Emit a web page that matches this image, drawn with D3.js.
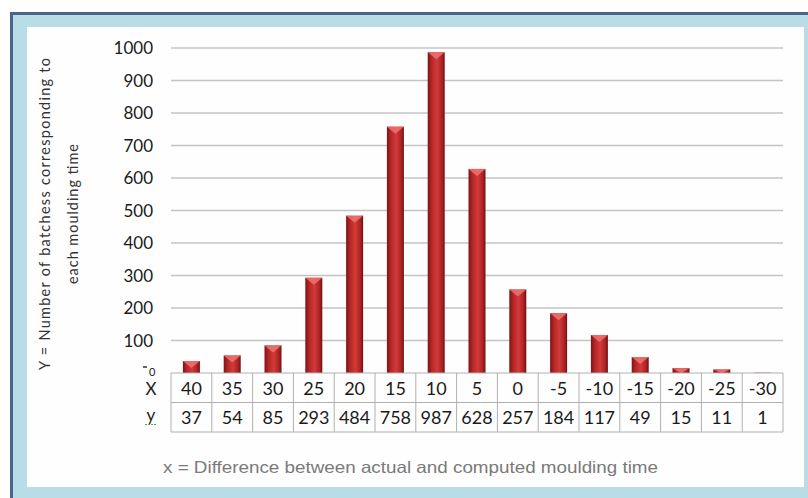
<!DOCTYPE html>
<html>
  <head>
    <title>Moulding time</title>
    <style>
      body { margin: 0; background: #fff; }
      svg { display: block; }
    </style>
  </head>
  <body>
    <svg id="canvas" width="808" height="498"></svg>
    <script src="https://d3js.org/d3.v7.min.js"></script>
    <script>
      // data
      const xLabels = ["40", "35", "30", "25", "20", "15", "10", "5", "0", "-5", "-10", "-15", "-20", "-25", "-30"];
      const counts = [37, 54, 85, 293, 484, 758, 987, 628, 257, 184, 117, 49, 15, 11, 1];
      const yTicks = [0, 100, 200, 300, 400, 500, 600, 700, 800, 900, 1000];

      const svg = d3.select("#canvas");
      const plotLeft = 171, plotRight = 783, plotTop = 48, base = 373;
      const rowH = 29.5;

      // frame
      svg.append("rect").attr("x", 10).attr("y", 12).attr("width", 798).attr("height", 486).attr("fill", "#b9dde7");
      svg.append("rect").attr("x", 10).attr("y", 12).attr("width", 798).attr("height", 3).attr("fill", "#46678a");
      svg.append("rect").attr("x", 10).attr("y", 12).attr("width", 3).attr("height", 486).attr("fill", "#46678a");
      svg.append("rect").attr("x", 27).attr("y", 27).attr("width", 777).attr("height", 460).attr("fill", "#fefefe");

      const x = d3.scaleBand().domain(xLabels).range([plotLeft, plotRight]);
      const y = d3.scaleLinear().domain([0, 1000]).range([base, plotTop]);

      // gridlines
      svg.append("g").selectAll("line").data(yTicks.filter(d => d > 0)).join("line")
        .attr("x1", plotLeft).attr("x2", plotRight)
        .attr("y1", d => y(d)).attr("y2", d => y(d))
        .attr("stroke", "#c4c4c4").attr("stroke-width", 1.3);

      // y tick labels
      svg.append("g").selectAll("text").data(yTicks.filter(d => d > 0)).join("text")
        .attr("x", 153).attr("y", d => y(d) + 6)
        .attr("text-anchor", "end")
        .attr("font-family", "Lato, sans-serif").attr("font-size", 17).attr("fill", "#1a1a1a")
        .text(d => d);
      svg.append("text").attr("x", 149).attr("y", 376)
        .attr("font-family", "Lato, sans-serif").attr("font-size", 11).attr("fill", "#222").text("0");
      svg.append("line").attr("x1", 143).attr("x2", 147).attr("y1", 367).attr("y2", 367)
        .attr("stroke", "#333").attr("stroke-width", 1.5);

      // bar gradient
      const defs = svg.append("defs");
      const grad = defs.append("linearGradient").attr("id", "barGrad").attr("x1", 0).attr("x2", 1).attr("y1", 0).attr("y2", 0);
      grad.append("stop").attr("offset", "0%").attr("stop-color", "#7e1414");
      grad.append("stop").attr("offset", "25%").attr("stop-color", "#b72828");
      grad.append("stop").attr("offset", "55%").attr("stop-color", "#d23a3a");
      grad.append("stop").attr("offset", "85%").attr("stop-color", "#a82222");
      grad.append("stop").attr("offset", "100%").attr("stop-color", "#6e1010");

      const bw = 17;
      const bars = svg.append("g").selectAll("g").data(counts).join("g");
      bars.append("rect")
        .attr("x", (d, i) => x(xLabels[i]) + x.bandwidth() / 2 - bw / 2)
        .attr("y", d => y(d))
        .attr("width", bw)
        .attr("height", d => base - y(d))
        .attr("fill", "url(#barGrad)");
      // top bevel
      bars.append("path")
        .attr("d", (d, i) => {
          const cx = x(xLabels[i]) + x.bandwidth() / 2;
          const t = y(d);
          const h = Math.min(7, base - t);
          return "M" + (cx - bw / 2) + "," + t + "H" + (cx + bw / 2) + "L" + cx + "," + (t + h) + "Z";
        })
        .attr("fill", "#ee7272").attr("opacity", 0.85);

      // data table
      const table = svg.append("g");
      const cols = d3.range(xLabels.length + 1);
      table.selectAll("line.v").data(cols).join("line")
        .attr("x1", i => plotLeft + i * x.step()).attr("x2", i => plotLeft + i * x.step())
        .attr("y1", base).attr("y2", base + 2 * rowH)
        .attr("stroke", "#b0b0b0");
      table.selectAll("line.h").data([0, 1, 2]).join("line")
        .attr("x1", plotLeft).attr("x2", plotRight)
        .attr("y1", r => base + r * rowH).attr("y2", r => base + r * rowH)
        .attr("stroke", "#b0b0b0");
      table.selectAll("text.xl").data(xLabels).join("text")
        .attr("x", d => x(d) + x.bandwidth() / 2).attr("y", base + 22)
        .attr("text-anchor", "middle")
        .attr("font-family", "Lato, sans-serif").attr("font-size", 18).attr("fill", "#1a1a1a")
        .text(d => d);
      table.selectAll("text.yl").data(counts).join("text")
        .attr("x", (d, i) => x(xLabels[i]) + x.bandwidth() / 2).attr("y", base + rowH + 21.5)
        .attr("text-anchor", "middle")
        .attr("font-family", "Lato, sans-serif").attr("font-size", 18).attr("fill", "#1a1a1a")
        .text(d => d);
      svg.append("text").attr("x", 151).attr("y", base + 22).attr("text-anchor", "middle")
        .attr("font-family", "Lato, sans-serif").attr("font-size", 17).attr("fill", "#222").text("X");
      svg.append("text").attr("x", 151).attr("y", base + rowH + 18).attr("text-anchor", "middle")
        .attr("font-family", "Lato, sans-serif").attr("font-size", 17).attr("fill", "#222").text("y");
      svg.append("line").attr("x1", 145).attr("x2", 157).attr("y1", base + rowH + 22).attr("y2", base + rowH + 22)
        .attr("stroke", "#6a9a3a").attr("stroke-width", 1).attr("stroke-dasharray", "2,1");

      // x caption
      svg.append("text").attr("x", 163).attr("y", 473)
        .attr("font-family", "Liberation Sans, Arial, sans-serif").attr("font-size", 16.5).attr("fill", "#7a7a7a")
        .attr("textLength", 495).attr("lengthAdjust", "spacingAndGlyphs")
        .text("x = Difference between actual and computed moulding time");

      // y caption
      const yCap = svg.append("g").attr("transform", "translate(0,214) rotate(-90)");
      yCap.append("text").attr("x", 0).attr("y", 50).attr("text-anchor", "middle")
        .attr("font-family", "Lato, sans-serif").attr("font-size", 14.5).attr("fill", "#333")
        .attr("textLength", 312).attr("lengthAdjust", "spacing")
        .text("Y = Number of batchess corresponding to");
      yCap.append("text").attr("x", 0).attr("y", 78).attr("text-anchor", "middle")
        .attr("font-family", "Lato, sans-serif").attr("font-size", 14.5).attr("fill", "#333")
        .attr("textLength", 140).attr("lengthAdjust", "spacing")
        .text("each moulding time");
    </script>
  </body>
</html>
